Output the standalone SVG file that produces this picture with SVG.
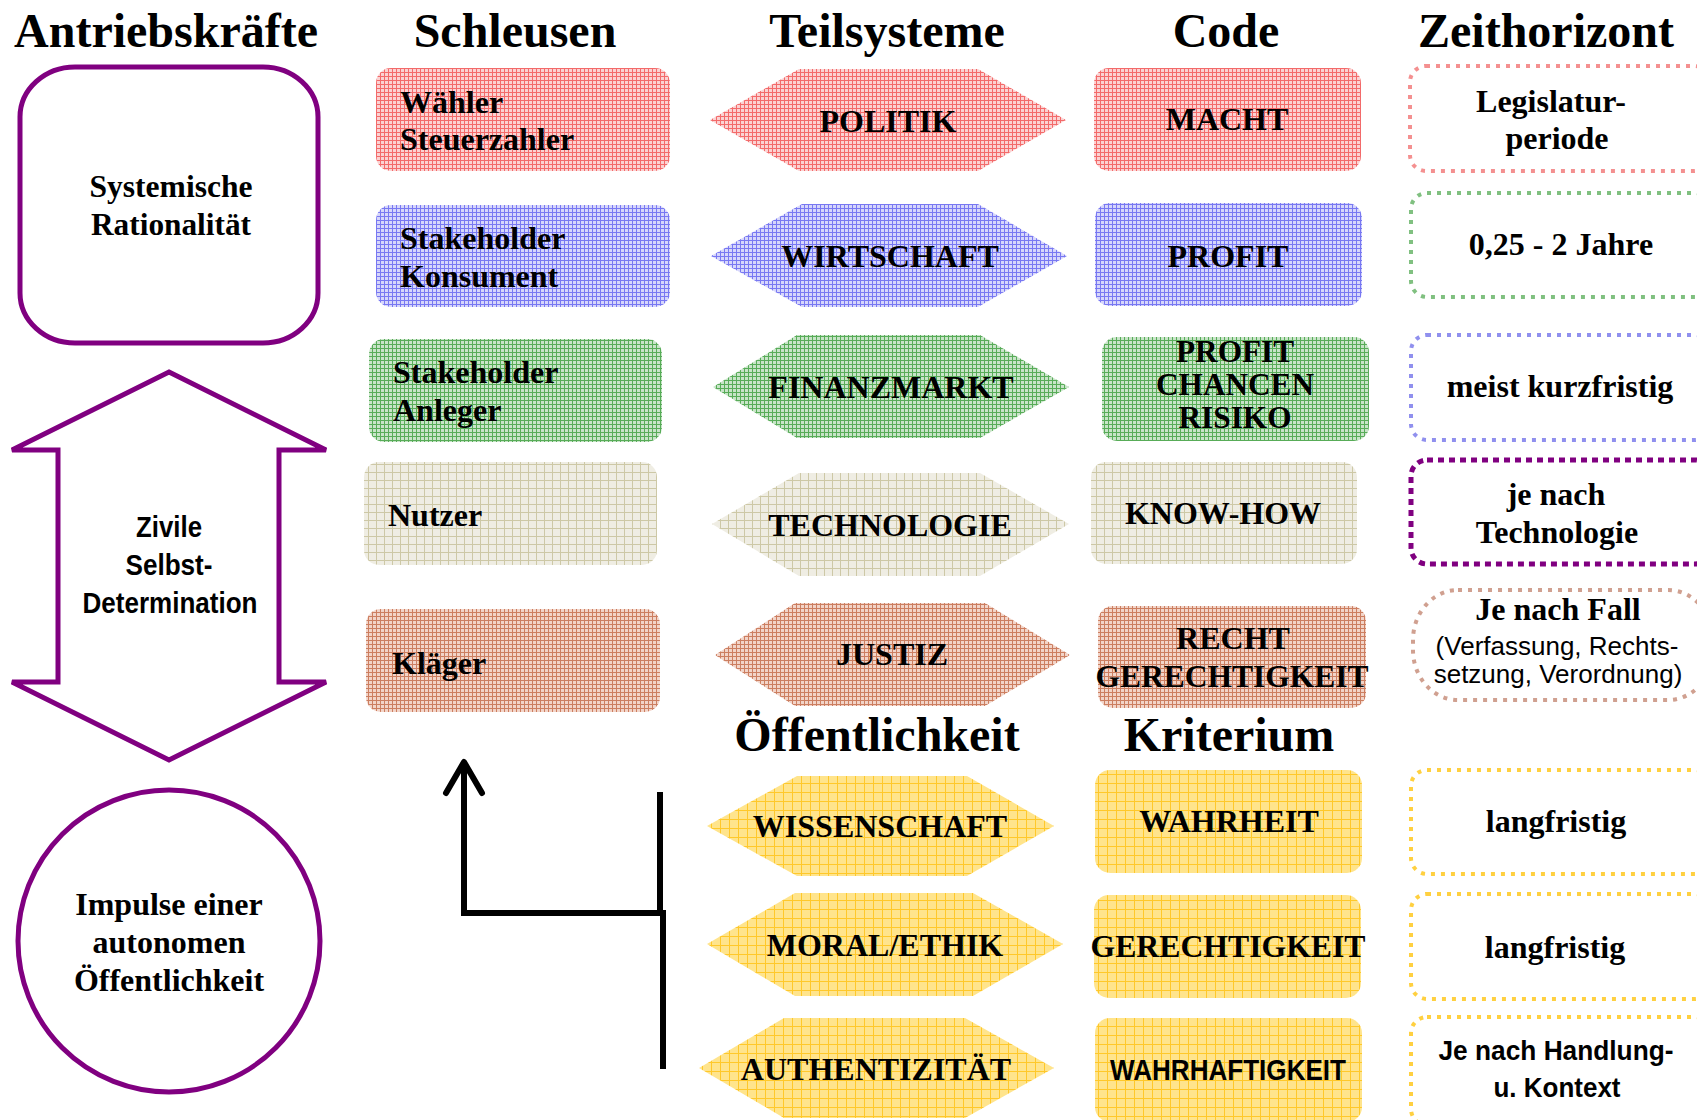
<svg xmlns="http://www.w3.org/2000/svg" width="1697" height="1120" viewBox="0 0 1697 1120">
<defs>
<pattern id="pRed" width="4" height="4" patternUnits="userSpaceOnUse"><rect width="4" height="4" fill="#fbd2d2"/><path d="M0 0.5H4M0.5 0V4" stroke="#f36a6a" stroke-width="1"/></pattern>
<pattern id="pBlue" width="4" height="4" patternUnits="userSpaceOnUse"><rect width="4" height="4" fill="#d6d6fb"/><path d="M0 0.5H4M0.5 0V4" stroke="#7878f2" stroke-width="1"/></pattern>
<pattern id="pGreen" width="4" height="4" patternUnits="userSpaceOnUse"><rect width="4" height="4" fill="#c8e4c8"/><path d="M0 0.5H4M0.5 0V4" stroke="#58ac58" stroke-width="1"/></pattern>
<pattern id="pBeige" width="8" height="8" patternUnits="userSpaceOnUse"><rect width="8" height="8" fill="#efede3"/><path d="M0 0.5H8M0.5 0V8" stroke="#cdc8a6" stroke-width="1"/></pattern>
<pattern id="pBrown" width="4" height="4" patternUnits="userSpaceOnUse"><rect width="4" height="4" fill="#f2d4c8"/><path d="M0 0.5H4M0.5 0V4" stroke="#cc7e60" stroke-width="1"/></pattern>
<pattern id="pYellow" width="9" height="9" patternUnits="userSpaceOnUse"><rect width="9" height="9" fill="#ffe48c"/><path d="M0 0.5H9M0.5 0V9" stroke="#ffc82a" stroke-width="1"/></pattern>
</defs>
<style>
.h{font-family:"Liberation Serif","Times New Roman",serif;font-weight:bold;font-size:48px;text-anchor:middle;fill:#000}
.t{font-family:"Liberation Serif","Times New Roman",serif;font-weight:bold;font-size:32px;fill:#000}
.c{text-anchor:middle}
.s{font-family:"Liberation Sans",Arial,sans-serif;font-weight:bold;fill:#000;text-anchor:middle}
.r{font-family:"Liberation Sans",Arial,sans-serif;font-size:26px;fill:#000;text-anchor:middle}
.pur{fill:#fff;stroke:#800080;stroke-width:5}
.zb{fill:#fff;stroke-width:4;stroke-dasharray:4 6}
</style>
<rect width="1697" height="1120" fill="#fff"/>

<g id="headings">
<text class="h" x="166" y="47">Antriebskräfte</text>
<text class="h" x="515" y="47">Schleusen</text>
<text class="h" x="887" y="47">Teilsysteme</text>
<text class="h" x="1226" y="47">Code</text>
<text class="h" x="1546" y="47">Zeithorizont</text>
<text class="h" x="877" y="751">Öffentlichkeit</text>
<text class="h" x="1229" y="751">Kriterium</text>
</g>

<g id="systemische">
<rect class="pur" x="20" y="67" width="298" height="276" rx="55" ry="50"/>
<text class="t c" x="171" y="197" textLength="163" lengthAdjust="spacingAndGlyphs">Systemische</text>
<text class="t c" x="171" y="235" textLength="160" lengthAdjust="spacingAndGlyphs">Rationalität</text>
</g>

<g id="zivile">
<polygon class="pur" points="169,372 326,450 279,450 279,682 326,682 169,760 12,682 58,682 58,450 12,450"/>
<text class="s" x="169" y="537" font-size="30" textLength="66" lengthAdjust="spacingAndGlyphs">Zivile</text>
<text class="s" x="169" y="575" font-size="30" textLength="87" lengthAdjust="spacingAndGlyphs">Selbst-</text>
<text class="s" x="170" y="613" font-size="30" textLength="175" lengthAdjust="spacingAndGlyphs">Determination</text>
</g>

<g id="impulse">
<circle class="pur" cx="169" cy="941" r="151"/>
<text class="t c" x="169" y="915">Impulse einer</text>
<text class="t c" x="169" y="953">autonomen</text>
<text class="t c" x="169" y="991">Öffentlichkeit</text>
</g>

<g id="schleuse-waehler">
<rect x="376" y="68" width="294" height="103" rx="15" fill="url(#pRed)"/>
<text class="t" x="400" y="113">Wähler</text>
<text class="t" x="400" y="150">Steuerzahler</text>
</g>
<g id="schleuse-konsument">
<rect x="376" y="205" width="294" height="102" rx="15" fill="url(#pBlue)"/>
<text class="t" x="400" y="249">Stakeholder</text>
<text class="t" x="400" y="287">Konsument</text>
</g>
<g id="schleuse-anleger">
<rect x="369" y="339" width="293" height="103" rx="15" fill="url(#pGreen)"/>
<text class="t" x="393" y="383">Stakeholder</text>
<text class="t" x="393" y="421">Anleger</text>
</g>
<g id="schleuse-nutzer">
<rect x="364" y="462" width="293" height="103" rx="15" fill="url(#pBeige)"/>
<text class="t" x="388" y="526">Nutzer</text>
</g>
<g id="schleuse-klaeger">
<rect x="366" y="609" width="294" height="103" rx="15" fill="url(#pBrown)"/>
<text class="t" x="392" y="674">Kläger</text>
</g>

<g id="ts-politik">
<polygon points="710,120 799,69 978,69 1066,120 978,171 799,171" fill="url(#pRed)"/>
<text class="t c" x="888" y="132">POLITIK</text>
</g>
<g id="ts-wirtschaft">
<polygon points="711,256 802,204 978,204 1067,256 978,307 802,307" fill="url(#pBlue)"/>
<text class="t c" x="890" y="267">WIRTSCHAFT</text>
</g>
<g id="ts-finanzmarkt">
<polygon points="713,387 797,335 980,335 1069,387 980,438 797,438" fill="url(#pGreen)"/>
<text class="t c" x="891" y="398">FINANZMARKT</text>
</g>
<g id="ts-technologie">
<polygon points="712,524 799,473 980,473 1069,524 980,576 799,576" fill="url(#pBeige)"/>
<text class="t c" x="890" y="536">TECHNOLOGIE</text>
</g>
<g id="ts-justiz">
<polygon points="715,655 795,603 985,603 1070,655 985,706 795,706" fill="url(#pBrown)"/>
<text class="t c" x="892" y="665">JUSTIZ</text>
</g>
<g id="oe-wissenschaft">
<polygon points="707,826 797,776 967,776 1054,826 967,876 797,876" fill="url(#pYellow)"/>
<text class="t c" x="880" y="837">WISSENSCHAFT</text>
</g>
<g id="oe-moral">
<polygon points="707,944 795,893 973,893 1063,944 973,996 795,996" fill="url(#pYellow)"/>
<text class="t c" x="885" y="956">MORAL/ETHIK</text>
</g>
<g id="oe-authentizitaet">
<polygon points="699,1068 784,1018 965,1018 1054,1068 965,1118 784,1118" fill="url(#pYellow)"/>
<text class="t c" x="876" y="1080">AUTHENTIZITÄT</text>
</g>

<g id="code-macht">
<rect x="1094" y="68" width="267" height="103" rx="15" fill="url(#pRed)"/>
<text class="t c" x="1227" y="130">MACHT</text>
</g>
<g id="code-profit">
<rect x="1095" y="203" width="267" height="103" rx="15" fill="url(#pBlue)"/>
<text class="t c" x="1228" y="267">PROFIT</text>
</g>
<g id="code-pcr">
<rect x="1102" y="337" width="267" height="104" rx="15" fill="url(#pGreen)"/>
<text class="t c" x="1235" y="362" font-size="27" textLength="118" lengthAdjust="spacingAndGlyphs">PROFIT</text>
<text class="t c" x="1235" y="395" font-size="27" textLength="158" lengthAdjust="spacingAndGlyphs">CHANCEN</text>
<text class="t c" x="1235" y="428" font-size="27" textLength="113" lengthAdjust="spacingAndGlyphs">RISIKO</text>
</g>
<g id="code-knowhow">
<rect x="1091" y="462" width="266" height="102" rx="15" fill="url(#pBeige)"/>
<text class="t c" x="1223" y="524">KNOW-HOW</text>
</g>
<g id="code-recht">
<rect x="1098" y="606" width="268" height="102" rx="15" fill="url(#pBrown)"/>
<text class="t c" x="1233" y="649">RECHT</text>
<text class="t c" x="1232" y="687" textLength="273" lengthAdjust="spacingAndGlyphs">GERECHTIGKEIT</text>
</g>
<g id="kr-wahrheit">
<rect x="1095" y="770" width="267" height="103" rx="15" fill="url(#pYellow)"/>
<text class="t c" x="1229" y="832">WAHRHEIT</text>
</g>
<g id="kr-gerechtigkeit">
<rect x="1094" y="895" width="267" height="103" rx="15" fill="url(#pYellow)"/>
<text class="t c" x="1228" y="957" textLength="275" lengthAdjust="spacingAndGlyphs">GERECHTIGKEIT</text>
</g>
<g id="kr-wahrhaftigkeit">
<rect x="1095" y="1018" width="267" height="104" rx="15" fill="url(#pYellow)"/>
<text class="s" x="1228" y="1080" font-size="30" textLength="236" lengthAdjust="spacingAndGlyphs">WAHRHAFTIGKEIT</text>
</g>

<g id="zh-legislatur">
<rect class="zb" x="1410" y="66" width="300" height="105" rx="16" stroke="#f49090"/>
<text class="t c" x="1551" y="112">Legislatur-</text>
<text class="t c" x="1557" y="149">periode</text>
</g>
<g id="zh-jahre">
<rect class="zb" x="1411" y="193" width="300" height="104" rx="16" stroke="#80c080"/>
<text class="t c" x="1561" y="255">0,25 - 2 Jahre</text>
</g>
<g id="zh-kurzfristig">
<rect class="zb" x="1411" y="335" width="300" height="105" rx="16" stroke="#9090ee"/>
<text class="t c" x="1560" y="397">meist kurzfristig</text>
</g>
<g id="zh-technologie">
<rect x="1411" y="460" width="300" height="104" rx="16" fill="#fff" stroke="#800080" stroke-width="5" stroke-dasharray="6 5"/>
<text class="t c" x="1556" y="505">je nach</text>
<text class="t c" x="1557" y="543">Technologie</text>
</g>
<g id="zh-fall">
<rect class="zb" x="1413" y="590" width="300" height="110" rx="45" ry="50" stroke="#d0a090"/>
<text class="t c" x="1558" y="620">Je nach Fall</text>
<text class="r" x="1557" y="655">(Verfassung, Rechts-</text>
<text class="r" x="1558" y="683">setzung, Verordnung)</text>
</g>
<g id="zh-langfristig1">
<rect class="zb" x="1411" y="770" width="300" height="104" rx="16" stroke="#ffd040"/>
<text class="t c" x="1556" y="832">langfristig</text>
</g>
<g id="zh-langfristig2">
<rect class="zb" x="1411" y="894" width="300" height="105" rx="16" stroke="#ffd040"/>
<text class="t c" x="1555" y="958">langfristig</text>
</g>
<g id="zh-handlung">
<rect class="zb" x="1411" y="1017" width="300" height="108" rx="16" stroke="#ffd040"/>
<text class="s" x="1556" y="1060" font-size="27" textLength="235" lengthAdjust="spacingAndGlyphs">Je nach Handlung-</text>
<text class="s" x="1557" y="1097" font-size="27" textLength="127" lengthAdjust="spacingAndGlyphs">u. Kontext</text>
</g>

<g id="connectors" fill="none" stroke="#000" stroke-width="6">
<path d="M663 1069V913H464V764"/>
<path d="M446 793L464 762L482 793" stroke-linecap="round" stroke-linejoin="round"/>
<path d="M660 792V916"/>
</g>
</svg>
